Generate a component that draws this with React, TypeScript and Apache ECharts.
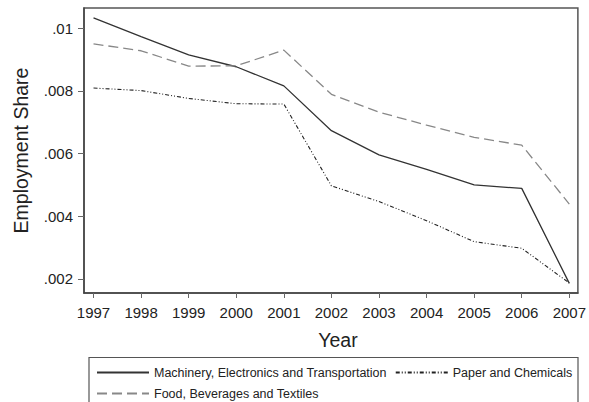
import React, { useEffect, useRef } from "react";
import * as echarts from "echarts";

const years = [1997, 1998, 1999, 2000, 2001, 2002, 2003, 2004, 2005, 2006, 2007];
const machinery = [0.01033, 0.00973, 0.00915, 0.00877, 0.00816, 0.00673, 0.00596, 0.0055, 0.005, 0.00489, 0.00186];
const food = [0.0095, 0.00928, 0.00879, 0.0088, 0.0093, 0.00789, 0.00732, 0.00691, 0.00652, 0.00627, 0.00439];
const paper = [0.00809, 0.00801, 0.00776, 0.00759, 0.00758, 0.00497, 0.00447, 0.00386, 0.00319, 0.00298, 0.00187];
const yTicks = [0.002, 0.004, 0.006, 0.008, 0.01];
const seriesNames = [
  "Machinery, Electronics and Transportation",
  "Food, Beverages and Textiles",
  "Paper and Chemicals",
];

const FONT = "'Liberation Sans', Arial, sans-serif";

export default function App() {
  const ref = useRef<HTMLDivElement>(null);
  useEffect(() => {
    if (!ref.current) return;
    const chart = echarts.init(ref.current, undefined, { renderer: "svg" });
    const pairs = (arr: number[]) => years.map((y, i) => [y, arr[i]]);
    chart.setOption({
      animation: false,
      backgroundColor: "#fff",
      textStyle: { fontFamily: FONT },
      grid: {
        left: 84,
        right: 10,
        top: 8,
        bottom: 109,
        show: true,
        borderColor: "#555",
        borderWidth: 1.5,
        backgroundColor: "transparent",
      },
      xAxis: {
        type: "value",
        min: 1996.8,
        max: 2007.18,
        name: "Year",
        nameLocation: "middle",
        nameGap: 37,
        nameTextStyle: { fontSize: 19.5, color: "#222", fontFamily: FONT, padding: [0, 0, 0, 14] },
        axisLine: { show: true, lineStyle: { color: "#444", width: 1.5 } },
        axisTick: { show: true, length: 5, customValues: years, lineStyle: { color: "#666" } },
        axisLabel: {
          customValues: years,
          fontSize: 15,
          color: "#222",
          margin: 12,
          fontFamily: FONT,
          formatter: (v: number) => String(Math.round(v)),
        },
        splitLine: { show: false },
      },
      yAxis: {
        type: "value",
        min: 0.001553,
        max: 0.010644,
        name: "Employment Share",
        nameLocation: "middle",
        nameGap: 53,
        nameTextStyle: { fontSize: 19.5, color: "#222", fontFamily: FONT },
        axisLine: { show: true, lineStyle: { color: "#444", width: 1.5 } },
        axisTick: { show: true, length: 6, customValues: yTicks, lineStyle: { color: "#666" } },
        axisLabel: {
          customValues: yTicks,
          fontSize: 15,
          color: "#222",
          margin: 11,
          fontFamily: FONT,
          formatter: (v: number) => parseFloat(v.toFixed(4)).toString().replace(/^0\./, "."),
        },
        splitLine: { show: false },
      },
      legend: {
        left: 96,
        top: 366,
        width: 480,
        padding: 0,
        itemWidth: 52,
        itemHeight: 14,
        itemGap: 8,
        data: [seriesNames[0], seriesNames[2], seriesNames[1]],
        itemStyle: { opacity: 0 },
        textStyle: { fontSize: 12.5, color: "#222", fontFamily: FONT },
      },
      graphic: [
        {
          type: "rect",
          shape: { x: 89, y: 357.5, width: 489, height: 60 },
          style: { fill: "none", stroke: "#555", lineWidth: 1.2 },
          silent: true,
        },
      ],
      series: [
        {
          name: seriesNames[0],
          type: "line",
          data: pairs(machinery),
          symbol: "none",
          lineStyle: { color: "#333", width: 1.3, type: "solid" },
          itemStyle: { color: "#333" },
        },
        {
          name: seriesNames[1],
          type: "line",
          data: pairs(food),
          symbol: "none",
          lineStyle: { color: "#888", width: 1.3, type: [10, 5] },
          itemStyle: { color: "#888" },
        },
        {
          name: seriesNames[2],
          type: "line",
          data: pairs(paper),
          symbol: "none",
          lineStyle: { color: "#222", width: 1.1, type: [4, 2, 1, 2, 1, 2] },
          itemStyle: { color: "#222" },
        },
      ],
    });
    return () => chart.dispose();
  }, []);
  return (
    <div
      ref={ref}
      style={{ position: "absolute", left: 0, top: 0, width: 589, height: 402 }}
    />
  );
}
